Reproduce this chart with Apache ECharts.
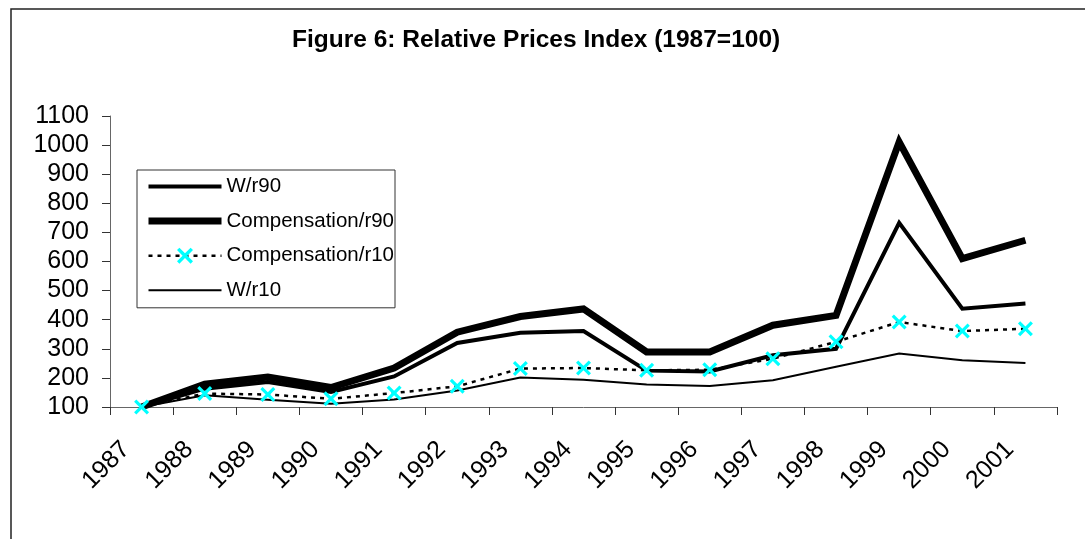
<!DOCTYPE html>
<html>
<head>
<meta charset="utf-8">
<title>Figure 6: Relative Prices Index</title>
<script src="https://cdn.jsdelivr.net/npm/echarts@6/dist/echarts.min.js"></script>
<style>
    html, body { margin: 0; padding: 0; background: #fff; }
    #chart { width: 1085px; height: 539px; }
</style>
</head>
<body>
<div id="chart"></div>
<script>
// data
let years = ['1987', '1988', '1989', '1990', '1991', '1992', '1993', '1994',
    '1995', '1996', '1997', '1998', '1999', '2000', '2001'];
let wR90 = [100, 163, 186, 152, 205, 320, 355, 361, 225, 222, 278, 300, 733, 438, 456];
let compR90 = [100, 178, 203, 167, 234, 357, 411, 437, 289, 289, 381, 415, 1011, 610, 673];
let compR10 = [100, 146, 143, 128, 148, 171, 232, 234, 226, 228, 266, 324, 392, 361, 369];
let wR10 = [100, 140, 125, 111, 126, 157, 201, 194, 177, 172, 192, 238, 284, 261, 251];

let font = '"Liberation Sans", Arial, sans-serif';
// cyan cross marker
let cross = 'path://M0,0.15L0.15,0L0.5,0.35L0.85,0L1,0.15L0.65,0.5L1,0.85L0.85,1L0.5,0.65L0.15,1L0,0.85L0.35,0.5Z';
// legend: hide the default circle on plain lines
let noMark = {color: 'transparent', opacity: 0, borderWidth: 0};

let chart = echarts.init(document.getElementById('chart'));

let option = {
    animation: false,
    backgroundColor: '#fff',
    textStyle: {
        fontFamily: font
    },
    title: {
        text: 'Figure 6: Relative Prices Index (1987=100)',
        left: 292,
        top: 28,
        padding: 0,
        textStyle: {
            fontFamily: font,
            fontSize: 24.5,
            fontWeight: 'bold',
            color: '#000'
        }
    },
    graphic: [
        {
            // outer chart frame, runs off the right and bottom edges
            type: 'rect',
            shape: {x: 11, y: 9, width: 1200, height: 700},
            style: {fill: 'none', stroke: '#222', lineWidth: 1.5},
            silent: true
        }
    ],
    legend: {
        orient: 'vertical',
        left: 137,
        top: 170,
        padding: [6, 1, 7, 8],
        borderColor: '#333',
        borderWidth: 1,
        itemWidth: 73,
        itemHeight: 20,
        itemGap: 13.6,
        textStyle: {
            fontFamily: font,
            fontSize: 20.5,
            color: '#000'
        },
        data: [
            {name: 'W/r90', lineStyle: {width: 4, color: '#000'}, itemStyle: noMark},
            {name: 'Compensation/r90', lineStyle: {width: 7, color: '#000'}, itemStyle: noMark},
            {name: 'Compensation/r10', lineStyle: {width: 2.5, type: [4, 5], color: '#000'}},
            {name: 'W/r10', lineStyle: {width: 2, color: '#000'}, itemStyle: noMark}
        ]
    },
    grid: {
        left: 110,
        right: 28,
        top: 116,
        bottom: 132
    },
    xAxis: {
        type: 'category',
        data: years,
        boundaryGap: true,
        axisLine: {
            lineStyle: {color: '#666', width: 1}
        },
        axisTick: {
            show: true,
            length: 8,
            lineStyle: {color: '#333'}
        },
        axisLabel: {
            interval: 0,
            rotate: 45,
            margin: 23,
            padding: [0, 22, 0, 0],
            fontFamily: font,
            fontSize: 25,
            color: '#000'
        },
        splitLine: {show: false}
    },
    yAxis: {
        type: 'value',
        min: 100,
        max: 1100,
        interval: 100,
        axisLine: {
            show: true,
            lineStyle: {color: '#666', width: 1}
        },
        axisTick: {
            show: true,
            length: 8,
            lineStyle: {color: '#333'}
        },
        axisLabel: {
            margin: 21,
            fontFamily: font,
            fontSize: 25,
            color: '#000',
            formatter: function (v) {
                return String(v);
            }
        },
        splitLine: {show: false}
    },
    series: [
        {
            name: 'W/r90',
            type: 'line',
            data: wR90,
            symbol: 'none',
            itemStyle: {color: '#000'},
            lineStyle: {width: 4, color: '#000', join: 'miter'}
        },
        {
            name: 'Compensation/r90',
            type: 'line',
            data: compR90,
            symbol: 'none',
            itemStyle: {color: '#000'},
            lineStyle: {width: 7, color: '#000', join: 'miter'}
        },
        {
            name: 'Compensation/r10',
            type: 'line',
            data: compR10,
            symbol: cross,
            symbolSize: 15,
            showAllSymbol: true,
            itemStyle: {color: '#00ffff'},
            lineStyle: {width: 2.5, color: '#000', type: [4, 5]}
        },
        {
            name: 'W/r10',
            type: 'line',
            data: wR10,
            symbol: 'none',
            itemStyle: {color: '#000'},
            lineStyle: {width: 2, color: '#000', join: 'miter'}
        }
    ]
};

chart.setOption(option);
</script>
</body>
</html>
